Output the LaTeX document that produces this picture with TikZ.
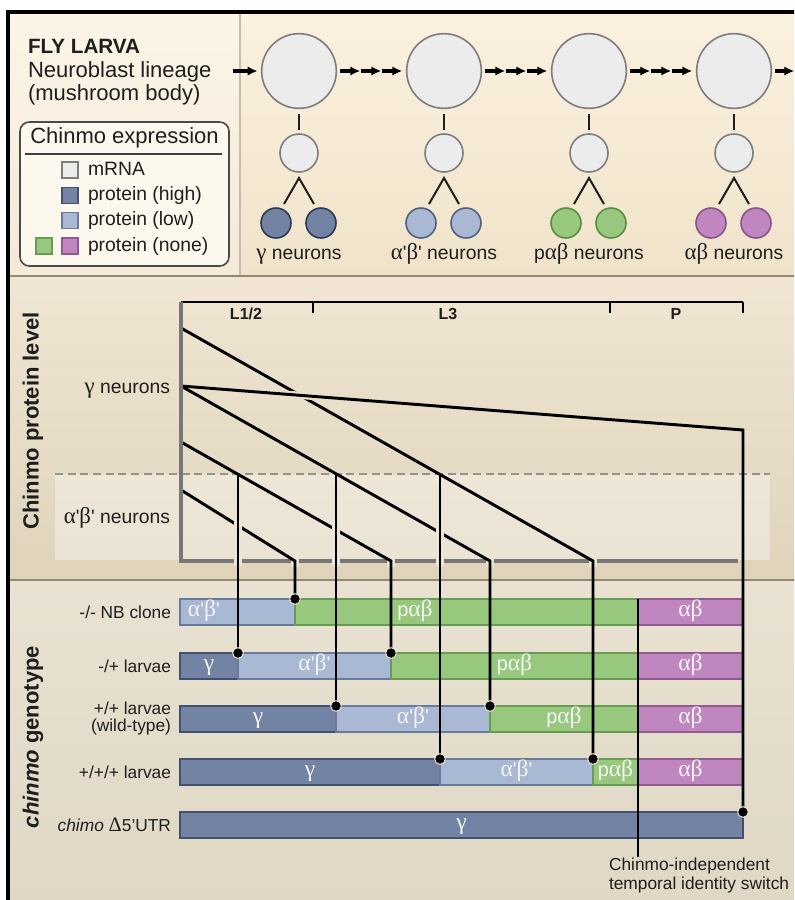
\documentclass[tikz,border=0pt]{standalone}
\usepackage{fontspec}
\setmainfont{Liberation Sans}
\newfontfamily\grkfont[Scale=1.18]{Liberation Serif}
\usepackage{tikz}
\usetikzlibrary{arrows.meta,positioning,calc}
\definecolor{PanelTop}{HTML}{FBF1DF}
\definecolor{PanelTopB}{HTML}{F1E3CA}
\definecolor{PanelMid}{HTML}{F0E6D3}
\definecolor{PanelMidB}{HTML}{DFD3BA}
\definecolor{PanelLow}{HTML}{E9E2D2}
\definecolor{PanelLowB}{HTML}{E0D7C4}
\definecolor{RuleBrown}{HTML}{978670}
\definecolor{GapCol}{HTML}{ECE4D4}
\definecolor{GapHi}{HTML}{EADFCA}
\definecolor{AxisGray}{HTML}{777777}
\definecolor{InkGray}{HTML}{1E1E1E}
\definecolor{LegLine}{HTML}{4A4A4A}
\definecolor{LegFill}{HTML}{FDF8EE}
\definecolor{BarText}{HTML}{F4F4F4}
\definecolor{RnaFill}{HTML}{ECECEC}
\definecolor{RnaLine}{HTML}{7D7D7D}
\definecolor{HiFill}{HTML}{7383A3}
\definecolor{HiLine}{HTML}{44506E}
\definecolor{HiDark}{HTML}{2E3A57}
\definecolor{LoFill}{HTML}{A9B9D4}
\definecolor{LoLine}{HTML}{6A7A9A}
\definecolor{LoDark}{HTML}{52617F}
\definecolor{GrFill}{HTML}{97C87E}
\definecolor{GrLine}{HTML}{679C54}
\definecolor{GrDark}{HTML}{5A8E45}
\definecolor{PuFill}{HTML}{C086BF}
\definecolor{PuLine}{HTML}{925A91}
\definecolor{PuDark}{HTML}{8A5489}

\newcommand{\gmm}{{\grkfont γ}}
\newcommand{\apbp}{{\grkfont α}\textquotesingle{\grkfont β}\textquotesingle}
\newcommand{\pab}{p{\grkfont αβ}}
\newcommand{\abn}{{\grkfont αβ}}
% one coloured piece of a genotype bar: name, x from, x to, top, style, text
\newcommand{\barseg}[6]{\node[#5,minimum width={(#3-#2)*0.75pt},anchor=north west] (#1) at (#2,#4) {#6};}

\begin{document}
\begin{tikzpicture}[x=0.75pt,y=-0.75pt,
    every node/.style={inner sep=0pt,outer sep=0pt,text=InkGray},
    nbcell/.style={circle,draw=RnaLine,fill=RnaFill,line width=1.2pt,minimum size=56pt},
    gmc/.style={circle,draw=RnaLine,fill=RnaFill,line width=1.2pt,minimum size=28.5pt},
    neuron/.style={circle,line width=1.2pt,minimum size=22.5pt},
    stalk/.style={line width=1.5pt,draw=InkGray},
    flow/.style={-{Latex[length=7.5pt,width=7pt]},line width=2.4pt,draw=black},
    lbl/.style={font=\fontsize{14.5}{17}\selectfont,text height=10.5pt,text depth=3pt},
    headline/.style={font=\fontsize{16.5}{19}\selectfont,anchor=base west},
    legtitle/.style={font=\fontsize{16.5}{19}\selectfont,text height=11.5pt,text depth=3.5pt},
    sq/.style={rectangle,minimum size=12pt,line width=0.9pt},
    legendframe/.style={rounded corners=7pt,draw=LegLine,fill=LegFill,line width=1.2pt},
    stage/.style={font=\bfseries\fontsize{12}{14}\selectfont,text height=8.6pt,text depth=0pt},
    axislbl/.style={font=\bfseries\fontsize{16.5}{19}\selectfont,text height=12pt,text depth=3.5pt,rotate=90},
    rowlbl/.style={font=\fontsize{13}{12.75}\selectfont,anchor=east,align=right},
    seg/.style={rectangle,minimum height=19.5pt,line width=1pt,font=\fontsize{15}{18}\selectfont,text=BarText,text height=9pt,text depth=2pt},
    gamseg/.style={seg,fill=HiFill,draw=HiLine},
    apbpseg/.style={seg,fill=LoFill,draw=LoLine},
    pabseg/.style={seg,fill=GrFill,draw=GrLine},
    abseg/.style={seg,fill=PuFill,draw=PuLine},
    barlbl/.style={font=\fontsize{15}{18}\selectfont,text=BarText,text height=9pt,text depth=2pt},
    trace/.style={line width=2.2pt,draw=black},
    gapline/.style={line width=5.5pt,draw=GapCol},
    graphaxis/.style={line width=3.2pt,draw=AxisGray},
    tdot/.style={circle,fill=black,draw=GapCol,line width=0.7pt,minimum size=8pt},
    outerframe/.style={line width=2.4pt,draw=black}
  ]
  \useasboundingbox (0,0) rectangle (794,900);
  \clip (0,0) rectangle (794,900);
  \fill[white] (0,0) rectangle (794,900);

  % panels
  \shade[top color=PanelTop,bottom color=PanelTopB] (8,12) rectangle (805,276);
  \fill[white,opacity=0.25] (8,12) rectangle (240,276);
  \draw[RuleBrown!55,line width=0.8pt] (240,12) -- (240,276);
  \shade[top color=PanelMid,bottom color=PanelMidB] (8,276) rectangle (805,580);
  \shade[top color=PanelLow,bottom color=PanelLowB] (8,580) rectangle (805,910);
  \draw[RuleBrown,line width=1.3pt] (8,276) -- (805,276);
  \draw[RuleBrown,line width=1.3pt] (8,580) -- (805,580);
  \draw[outerframe] (8,912) -- (8,12) -- (805,12);

  % title and legend
  \node[headline,font=\bfseries\fontsize{15.5}{19}\selectfont] (fly) at (28,53) {FLY LARVA};
  \node[headline] (nbl) at (28,77) {Neuroblast lineage};
  \node[headline] (mb) at (28,100) {(mushroom body)};

  \draw[legendframe] (20,122) rectangle (229,266);
  \node[legtitle] (legtitle) at (124.5,138) {Chinmo expression};
  \draw[line width=1.3pt,draw=InkGray!85] (25,154) -- (222,154);
  \node[sq,fill=RnaFill,draw=RnaLine] (sqrna) at (70,170) {};
  \node[sq,fill=HiFill,draw=HiLine,below=7pt of sqrna] (sqhi) {};
  \node[sq,fill=LoFill,draw=LoLine,below=7pt of sqhi] (sqlo) {};
  \node[sq,fill=PuFill,draw=PuLine,below=7pt of sqlo] (sqpu) {};
  \node[sq,fill=GrFill,draw=GrLine,left=7.5pt of sqpu] (sqgr) {};
  \node[lbl,right=7.5pt of sqrna] (txrna) {mRNA};
  \node[lbl,right=7.5pt of sqhi] (txhi) {protein (high)};
  \node[lbl,right=7.5pt of sqlo] (txlo) {protein (low)};
  \node[lbl,right=7.5pt of sqpu] (txnone) {protein (none)};

  % neuroblast lineage
  \foreach \i/\cx/\fc/\dc/\txt in {1/299/HiFill/HiDark/{\gmm\ neurons},
      2/444/LoFill/LoDark/{\apbp\ neurons},
      3/589/GrFill/GrDark/{\pab\ neurons},
      4/734/PuFill/PuDark/{\abn\ neurons}}{
    \node[nbcell] (nb\i) at (\cx,71) {};
    \node[gmc] (gmc\i) at (\cx,153) {};
    \node[neuron,fill=\fc,draw=\dc] (nl\i) at (\cx-23,223) {};
    \node[neuron,fill=\fc,draw=\dc] (nr\i) at (\cx+22,223) {};
    \node[lbl] (nlab\i) at (\cx,254) {\txt};
    \coordinate (apex\i) at ($(gmc\i.south)+(0,6)$);
    \draw[stalk,shorten <=4.5pt,shorten >=3pt] (nb\i) -- (gmc\i);
    \draw[stalk] ($(nl\i)+(8,-19)$) -- (apex\i) -- ($(nr\i)+(-7,-19)$);
  }
  \draw[flow] ($(nb1.west)+(-29,0)$) -- ($(nb1.west)+(-4,0)$);
  \foreach \a/\b in {1/2,2/3,3/4}
    \foreach \k in {0,1,2}
      \draw[flow] ($(nb\a.east)+(4+21*\k,0)$) -- ++(20,0);
  \draw[flow] ($(nb4.east)+(4,0)$) -- ++(19,0);

  % protein level graph
  \fill[white,opacity=0.35] (55,474) rectangle (770,560);
  \draw[AxisGray!80,line width=1pt,dash pattern=on 6pt off 3.5pt] (55,474) -- (770,474);
  \node[lbl,anchor=east] (gneur) at (170,388) {\gmm\ neurons};
  \node[lbl,anchor=east] (apneur) at (170,518) {\apbp\ neurons};
  \node[axislbl] (ylab) at (33,421) {Chinmo protein level};
  \draw[trace] (181,302) -- (743,302);
  \foreach \tx in {313,610,743}
    \draw[trace] (\tx,302) -- (\tx,313);
  \node[stage] (st12) at (246,314) {L1/2};
  \node[stage] (st3) at (448,314) {L3};
  \node[stage] (stp) at (676,314) {P};

  % genotype bars
  \node[axislbl] (glab) at (33,737) {\textit{chinmo} genotype};
  \node[rowlbl] (g1) at (171,612) {-/- NB clone};
  \node[rowlbl] (g2) at (171,666) {-/+ larvae};
  \node[rowlbl] (g3) at (171,719) {+/+ larvae\\(wild-type)};
  \node[rowlbl] (g4) at (171,772) {+/+/+ larvae};
  \node[rowlbl] (g5) at (171,825) {\textit{chimo} {\grkfont Δ}5'UTR};

  \barseg{r1a}{180}{295}{599}{apbpseg}{}
  \barseg{r1b}{295}{638}{599}{pabseg}{}
  \barseg{r1c}{638}{743}{599}{abseg}{\abn}
  \node[barlbl] (r1alab) at (204,612) {\apbp};
  \node[barlbl] (r1blab) at (415,612) {\pab};
  \barseg{r2a}{180}{238}{653}{gamseg}{\gmm}
  \barseg{r2b}{238}{391}{653}{apbpseg}{\apbp}
  \barseg{r2c}{391}{638}{653}{pabseg}{\pab}
  \barseg{r2d}{638}{743}{653}{abseg}{\abn}
  \barseg{r3a}{180}{336}{706}{gamseg}{\gmm}
  \barseg{r3b}{336}{490}{706}{apbpseg}{\apbp}
  \barseg{r3c}{490}{638}{706}{pabseg}{\pab}
  \barseg{r3d}{638}{743}{706}{abseg}{\abn}
  \barseg{r4a}{180}{440}{759}{gamseg}{\gmm}
  \barseg{r4b}{440}{593}{759}{apbpseg}{\apbp}
  \barseg{r4c}{593}{638}{759}{pabseg}{\pab}
  \barseg{r4d}{638}{743}{759}{abseg}{\abn}
  \barseg{r5a}{180}{743}{812}{gamseg}{\gmm}

  % decay lines
  \coordinate (s1) at (181,490); \coordinate (c1) at (295,561);
  \coordinate (s2) at (181,442); \coordinate (t2) at (238,474); \coordinate (c2) at (391,561);
  \coordinate (s3) at (181,386); \coordinate (t3) at (336,474); \coordinate (c3) at (490,561);
  \coordinate (s4) at (181,328); \coordinate (t4) at (440,474); \coordinate (c4) at (593,561);
  \coordinate (dd) at (743,430);
  \coordinate (swend) at (638,857);

  \draw[graphaxis] (181,561) -- (738,561);
  \foreach \c in {c1,c2,c3,c4}
    \draw[gapline] ($(\c)+(0,-6)$) -- ($(\c)+(0,6)$);
  \draw[trace] (s1) -- (c1) -- (r1b.north west);
  \draw[trace] (s2) -- (c2) -- (r2c.north west);
  \draw[trace] (s3) -- (c3) -- (r3c.north west);
  \draw[trace] (s4) -- (c4) -- (r4c.north west);
  \draw[gapline,draw=GapHi] ($(s3)!0.18!(dd)$) -- ($(s3)!0.245!(dd)$);
  \draw[trace] (s3) -- (dd) -- (r5a.north east);
  \foreach \t in {t2,t3,t4}
    \draw[gapline] ($(\t)+(0,9)$) -- ($(\t)+(0,92)$);
  \draw[trace] (t2) -- (r2b.north west);
  \draw[trace] (t3) -- (r3b.north west);
  \draw[trace] (t4) -- (r4b.north west);
  \draw[graphaxis] (181,302) -- (181,563);
  \draw[trace] (r1c.north west) -- (swend);
  \node[font=\fontsize{13}{14.3}\selectfont,anchor=north west,align=left] (swlab) at (609,858)
    {Chinmo-independent\\temporal identity switch};

  \foreach \p [count=\n] in {r1b.north west,r2b.north west,r2c.north west,r3b.north west,
      r3c.north west,r4b.north west,r4c.north west,r5a.north east}
    \node[tdot] (dot\n) at (\p) {};
\end{tikzpicture}
\end{document}
